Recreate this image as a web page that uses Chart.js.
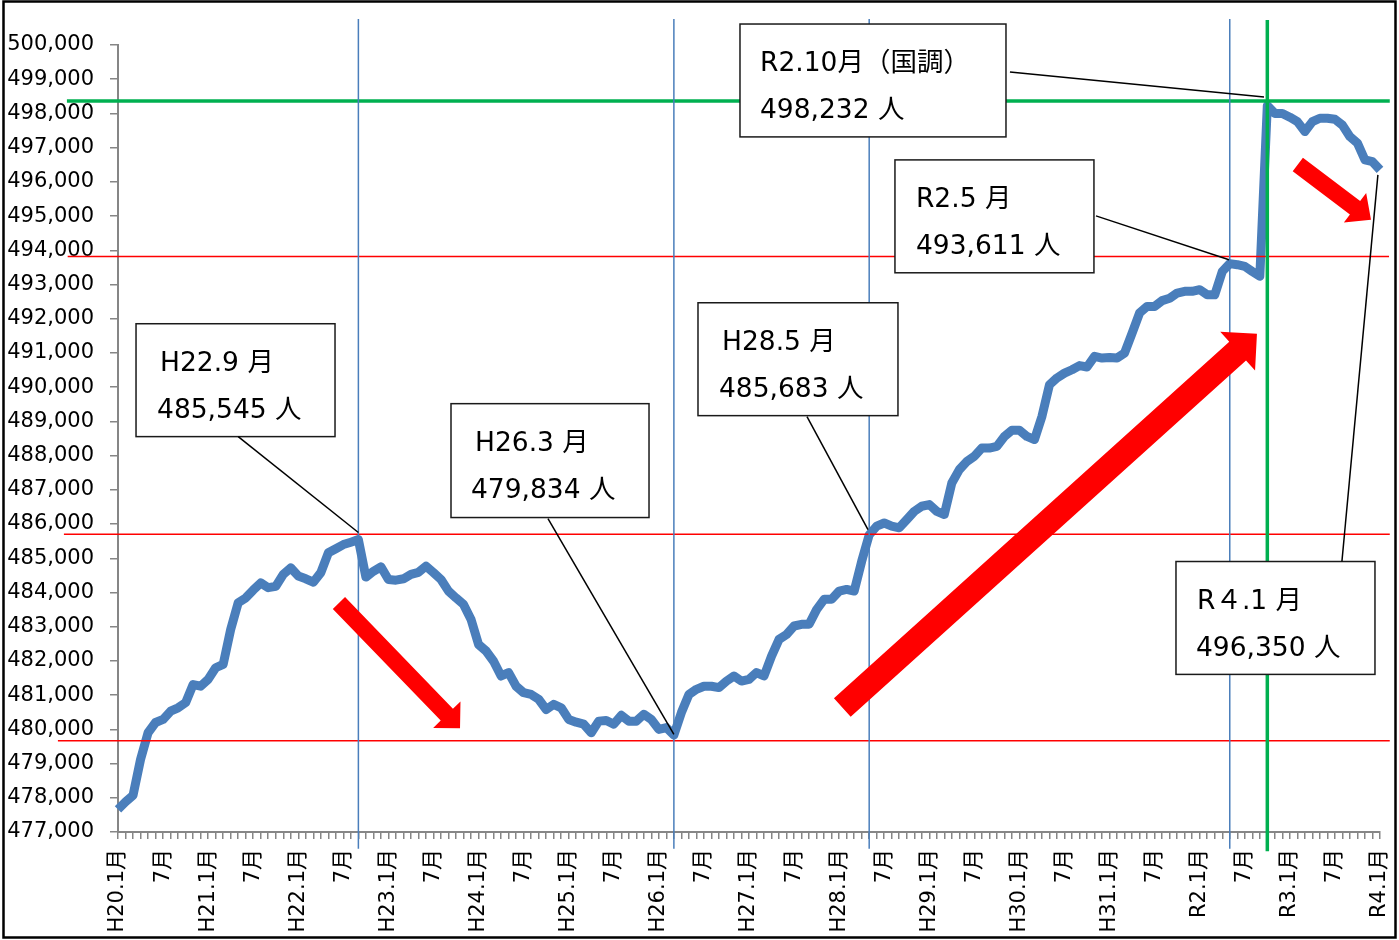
<!DOCTYPE html>
<html lang="ja">
<head>
<meta charset="utf-8">
<script src="https://cdn.jsdelivr.net/npm/chart.js@4.4.1/dist/chart.umd.min.js"></script>
<style>
  html, body { margin: 0; padding: 0; background: #fff; }
  #wrap { width: 1399px; height: 940px; position: relative; }
</style>
</head>
<body>
<div id="wrap"><canvas id="popChart"></canvas></div>
<script>
// x axis: one label per January, "7月" in July, blank otherwise
const yearLabels = ['H20.1月', 'H21.1月', 'H22.1月', 'H23.1月', 'H24.1月', 'H25.1月', 'H26.1月',
    'H27.1月', 'H28.1月', 'H29.1月', 'H30.1月', 'H31.1月', 'R2.1月', 'R3.1月', 'R4.1月'];
const midYearLabel = '7月';

// monthly population, H20.1月 - R4.1月
const population = [
    477660, 477880, 478070, 479120, 479900, 480200, 480290, 480530, 480630, 480780,
    481310, 481260, 481460, 481800, 481900, 482920, 483700, 483840, 484070, 484280,
    484140, 484180, 484530, 484720, 484480, 484400, 484300, 484580, 485160, 485280,
    485400, 485470, 485545, 484450, 484620, 484750, 484380, 484360, 484400, 484530,
    484590, 484770, 484580, 484380, 484040, 483840, 483650, 483210, 482480, 482290,
    481990, 481560, 481660, 481260, 481070, 481020, 480880, 480580, 480730, 480630,
    480290, 480210, 480150, 479900, 480240, 480260, 480150, 480410, 480240, 480240,
    480440, 480290, 480000, 480050, 479834, 480490, 481020, 481170, 481260, 481260,
    481220, 481410, 481560, 481410, 481460, 481660, 481560, 482140, 482630, 482770,
    483020, 483070, 483070, 483500, 483800, 483800, 484040, 484090, 484040, 484910,
    485683, 485940, 486030, 485940, 485890, 486130, 486370, 486520, 486570, 486370,
    486280, 487200, 487590, 487830, 487980, 488220, 488220, 488270, 488560, 488740,
    488740, 488560, 488470, 489150, 490070, 490270, 490410, 490510, 490630, 490590,
    490900, 490850, 490870, 490850, 491000, 491580, 492170, 492360, 492360, 492530,
    492600, 492750, 492800, 492800, 492850, 492700, 492700, 493380, 493611, 493580,
    493530, 493380, 493240, 498232, 498000, 498000, 497890, 497760, 497470, 497760,
    497860, 497860, 497830, 497660, 497320, 497130, 496640, 496590, 496350
];

// y axis range
const yMin = 477000;
const yMax = 500000;
const yStep = 1000;

// guide lines (month index / population)
const redLines = [
    { value: 493816, from: -6.7, to: 169.2 },
    { value: 485699, from: -7.2, to: 169.3 },
    { value: 479670, from: -8.0, to: 169.3 }
];
const greenLine = { value: 498365, from: -6.8, to: 169.3 };
const blueMonths = [32, 74, 100, 148];
const greenMonth = 153;

// callout boxes: box = [month left, month right, top value, bottom value]
const callouts = [
    { lines: ['H22.9 月', '485,545 人'], box: [2.40, 28.89, 491854, 488555], from: [16.0, 488555], to: [32, 485752], inset: [24, 21] },
    { lines: ['H26.3 月', '479,834 人'], box: [44.33, 70.69, 489518, 486190], from: [57.24, 486161], to: [74, 479854], inset: [24, 20] },
    { lines: ['H28.5 月', '485,683 人'], box: [77.21, 103.83, 492467, 489168], from: [91.72, 489139], to: [99.84, 485839], inset: [24, 21] },
    { lines: ['R2.10月（国調）', '498,232 人'], box: [82.80, 118.21, 500613, 497314], from: [118.74, 499212], to: [152.56, 498482], inset: [20, 20] },
    { lines: ['R2.5 月', '493,611 人'], box: [103.43, 129.92, 496642, 493343], from: [130.19, 495007], to: [147.90, 493723], inset: [21, 21] },
    { lines: ['R４.1 月', '496,350 人'], box: [140.84, 167.33, 484905, 481606], from: [162.93, 484905], to: [167.72, 496204], inset: [21, 20] }
];

// trend arrows: tail -> tip
const arrows = [
    { from: [29.41, 483693], to: [45.53, 480029], shaft: 17, head: 38, headLen: 19 },
    { from: [96.42, 480636], to: [151.62, 491562], shaft: 25, head: 52, headLen: 26 },
    { from: [157.06, 496505], to: [166.80, 494891], shaft: 17, head: 37, headLen: 20 }
];

const labels = [];
yearLabels.forEach(yl => {
    for (let m = 0; m < 12; m++) {
        if (labels.length >= population.length) break;
        labels.push(m === 0 ? yl : (m === 6 ? midYearLabel : ''));
    }
});

const FONT = "'DejaVu Sans', 'Noto Sans CJK JP', sans-serif";

const decorations = {
    id: 'decorations',
    afterDraw(chart) {
        const ctx = chart.ctx;
        const xs = chart.scales.x;
        const ys = chart.scales.y;
        const px = i => xs.left + (xs.right - xs.left) * i / (population.length - 1);
        const py = v => ys.getPixelForValue(v);

        ctx.save();

        // horizontal guides
        ctx.strokeStyle = '#ff0000';
        ctx.lineWidth = 1.5;
        redLines.forEach(l => {
            ctx.beginPath();
            ctx.moveTo(px(l.from), py(l.value));
            ctx.lineTo(px(l.to), py(l.value));
            ctx.stroke();
        });
        ctx.strokeStyle = '#00b050';
        ctx.lineWidth = 3.5;
        ctx.beginPath();
        ctx.moveTo(px(greenLine.from), py(greenLine.value));
        ctx.lineTo(px(greenLine.to), py(greenLine.value));
        ctx.stroke();

        // vertical guides
        ctx.strokeStyle = '#4a7ebb';
        ctx.lineWidth = 1.5;
        blueMonths.forEach(m => {
            ctx.beginPath();
            ctx.moveTo(px(m), py(500759));
            ctx.lineTo(px(m), py(476511));
            ctx.stroke();
        });
        ctx.strokeStyle = '#00b050';
        ctx.lineWidth = 3.5;
        ctx.beginPath();
        ctx.moveTo(px(greenMonth), py(500730));
        ctx.lineTo(px(greenMonth), py(476438));
        ctx.stroke();

        // red arrows
        ctx.fillStyle = '#ff0000';
        arrows.forEach(a => {
            const x0 = px(a.from[0]), y0 = py(a.from[1]);
            const x1 = px(a.to[0]), y1 = py(a.to[1]);
            const len = Math.hypot(x1 - x0, y1 - y0);
            const dx = (x1 - x0) / len, dy = (y1 - y0) / len;
            const nx = -dy, ny = dx;
            const bx = x1 - dx * a.headLen, by = y1 - dy * a.headLen;
            const s = a.shaft / 2, h = a.head / 2;
            ctx.beginPath();
            ctx.moveTo(x0 + nx * s, y0 + ny * s);
            ctx.lineTo(bx + nx * s, by + ny * s);
            ctx.lineTo(bx + nx * h, by + ny * h);
            ctx.lineTo(x1, y1);
            ctx.lineTo(bx - nx * h, by - ny * h);
            ctx.lineTo(bx - nx * s, by - ny * s);
            ctx.lineTo(x0 - nx * s, y0 - ny * s);
            ctx.closePath();
            ctx.fill();
        });

        // callouts
        callouts.forEach(c => {
            const l = px(c.box[0]), r = px(c.box[1]);
            const t = py(c.box[2]), b = py(c.box[3]);
            ctx.fillStyle = '#ffffff';
            ctx.fillRect(l, t, r - l, b - t);
            ctx.strokeStyle = '#1a1a1a';
            ctx.lineWidth = 1.5;
            ctx.strokeRect(l, t, r - l, b - t);

            ctx.fillStyle = '#000000';
            ctx.font = '26.5px ' + FONT;
            ctx.textBaseline = 'alphabetic';
            ctx.textAlign = 'left';
            ctx.fillText(c.lines[0], l + c.inset[0], t + 47);
            ctx.fillText(c.lines[1], l + c.inset[1], t + 94);

            ctx.strokeStyle = '#000000';
            ctx.lineWidth = 1.5;
            ctx.beginPath();
            ctx.moveTo(px(c.from[0]), py(c.from[1]));
            ctx.lineTo(px(c.to[0]), py(c.to[1]));
            ctx.stroke();
        });

        // outer frame
        ctx.strokeStyle = '#000000';
        ctx.lineWidth = 2.5;
        ctx.strokeRect(3.5, 1.5, chart.width - 7, chart.height - 4);

        ctx.restore();
    }
};

new Chart(document.getElementById('popChart'), {
    type: 'line',
    data: {
        labels: labels,
        datasets: [{
            data: population,
            borderColor: '#4a7ebb',
            borderWidth: 9,
            borderJoinStyle: 'round',
            pointRadius: 0,
            tension: 0,
            fill: false
        }]
    },
    options: {
        responsive: true,
        maintainAspectRatio: false,
        animation: false,
        layout: { padding: { top: 45, right: 19, left: 0, bottom: 0 } },
        plugins: {
            legend: { display: false },
            tooltip: { enabled: false }
        },
        scales: {
            x: {
                offset: false,
                grid: { display: true, drawOnChartArea: false, drawTicks: true, tickLength: 7, color: '#868686', lineWidth: 1.5 },
                border: { display: true, color: '#868686', width: 2 },
                ticks: {
                    autoSkip: false,
                    minRotation: 90,
                    maxRotation: 90,
                    padding: 10,
                    color: '#000',
                    font: { family: FONT, size: 21 }
                },
                afterFit: s => {
                    s.height = 108;
                    s.paddingLeft = 0;
                    s.paddingRight = 0;
                }
            },
            y: {
                min: yMin,
                max: yMax,
                grid: { display: true, drawOnChartArea: false, drawTicks: true, tickLength: 8, color: '#868686', lineWidth: 1.5 },
                border: { display: true, color: '#868686', width: 2 },
                ticks: {
                    stepSize: yStep,
                    padding: 16,
                    color: '#000',
                    font: { family: FONT, size: 21 },
                    callback: v => v.toLocaleString('en-US')
                },
                afterFit: s => {
                    s.width = 118;
                    s.paddingTop = 0;
                    s.paddingBottom = 0;
                }
            }
        }
    },
    plugins: [decorations]
});
</script>
</body>
</html>
